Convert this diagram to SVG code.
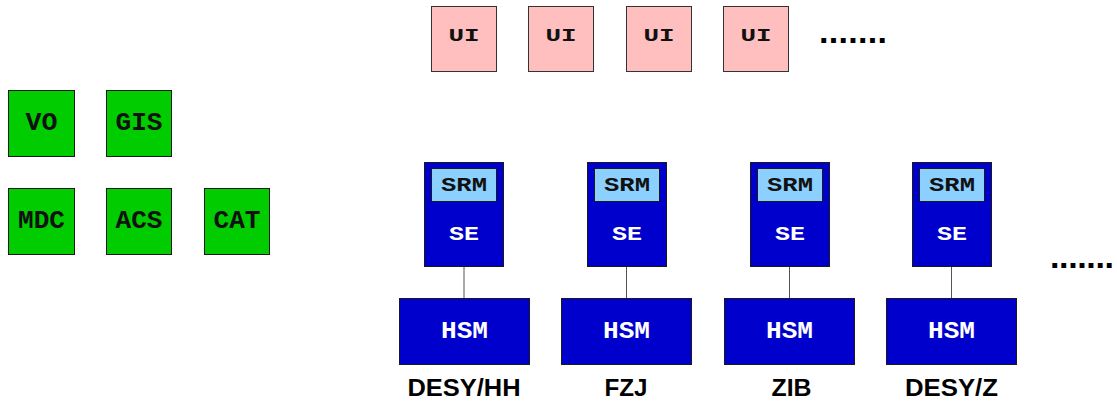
<svg xmlns="http://www.w3.org/2000/svg" width="1117" height="401" viewBox="0 0 1117 401">
<style>
.g{fill:#00cc00;stroke:#1a1a1a;stroke-width:1}
.u{fill:#ffbfbf;stroke:#333;stroke-width:1}
.b{fill:#0000cc;stroke:#1a1a1a;stroke-width:1}
.s{fill:#8cd0ff;stroke:#1a1a1a;stroke-width:1}
.m{font-family:"Liberation Mono","Courier New",monospace;font-weight:bold;text-anchor:middle}
.gt{font-size:25px;fill:#111}
.ut{font-size:18px;fill:#111}
.st{font-size:20px;fill:#111}
.se{font-size:21px;fill:#fff}
.ht{font-size:23px;fill:#fff}
.lab{font-family:"Liberation Sans",Arial,sans-serif;font-weight:bold;font-size:24px;fill:#000;text-anchor:middle}
.dots{font-family:"Liberation Sans",Arial,sans-serif;font-weight:bold;font-size:34px;fill:#000}
.c{stroke:#555;stroke-width:1}
</style>
<g id="vo"><rect class="g" x="8.5" y="90.5" width="66" height="66"/><text class="m gt" x="41.5" y="130" textLength="32" lengthAdjust="spacingAndGlyphs">VO</text></g>
<g id="gis"><rect class="g" x="106.5" y="90.5" width="65" height="66"/><text class="m gt" x="139" y="130" textLength="47" lengthAdjust="spacingAndGlyphs">GIS</text></g>
<g id="mdc"><rect class="g" x="8.5" y="188.5" width="66" height="66"/><text class="m gt" x="41.5" y="228" textLength="47" lengthAdjust="spacingAndGlyphs">MDC</text></g>
<g id="acs"><rect class="g" x="106.5" y="188.5" width="65" height="66"/><text class="m gt" x="139" y="228" textLength="47" lengthAdjust="spacingAndGlyphs">ACS</text></g>
<g id="cat"><rect class="g" x="204.5" y="188.5" width="65" height="66"/><text class="m gt" x="237" y="228" textLength="47" lengthAdjust="spacingAndGlyphs">CAT</text></g>

<g id="ui1"><rect class="u" x="431.5" y="6.5" width="65" height="65"/><text class="m ut" x="464" y="41" textLength="31" lengthAdjust="spacingAndGlyphs">UI</text></g>
<g id="ui2"><rect class="u" x="528.5" y="6.5" width="65" height="65"/><text class="m ut" x="561" y="41" textLength="31" lengthAdjust="spacingAndGlyphs">UI</text></g>
<g id="ui3"><rect class="u" x="626.5" y="6.5" width="65" height="65"/><text class="m ut" x="659" y="41" textLength="31" lengthAdjust="spacingAndGlyphs">UI</text></g>
<g id="ui4"><rect class="u" x="723.5" y="6.5" width="65" height="65"/><text class="m ut" x="756" y="41" textLength="31" lengthAdjust="spacingAndGlyphs">UI</text></g>
<text id="ui-more" class="dots" x="819" y="43" textLength="68" lengthAdjust="spacing">.......</text>

<g id="connectors">
<line class="c" x1="464" y1="266" x2="464" y2="298"/>
<line class="c" x1="626.5" y1="266" x2="626.5" y2="298"/>
<line class="c" x1="789.5" y1="266" x2="789.5" y2="298"/>
<line class="c" x1="951.5" y1="266" x2="951.5" y2="298"/>
</g>

<g id="se1"><rect class="b" x="424.5" y="162.5" width="79" height="104"/><rect class="s" x="431.5" y="168.5" width="65" height="33"/><text class="m st" x="464" y="191" textLength="46" lengthAdjust="spacingAndGlyphs">SRM</text><text class="m se" x="464" y="240" textLength="30" lengthAdjust="spacingAndGlyphs">SE</text></g>
<g id="hsm1"><rect class="b" x="399.5" y="298.5" width="130" height="66"/><text class="m ht" x="464.5" y="338" textLength="47" lengthAdjust="spacingAndGlyphs">HSM</text></g>
<text id="site1" class="lab" x="464" y="396" textLength="113" lengthAdjust="spacingAndGlyphs">DESY/HH</text>

<g id="se2"><rect class="b" x="587.5" y="162.5" width="79" height="104"/><rect class="s" x="594.5" y="168.5" width="65" height="33"/><text class="m st" x="627" y="191" textLength="46" lengthAdjust="spacingAndGlyphs">SRM</text><text class="m se" x="627" y="240" textLength="30" lengthAdjust="spacingAndGlyphs">SE</text></g>
<g id="hsm2"><rect class="b" x="561.5" y="298.5" width="130" height="66"/><text class="m ht" x="626.5" y="338" textLength="47" lengthAdjust="spacingAndGlyphs">HSM</text></g>
<text id="site2" class="lab" x="626" y="396" textLength="43" lengthAdjust="spacingAndGlyphs">FZJ</text>

<g id="se3"><rect class="b" x="750.5" y="162.5" width="79" height="104"/><rect class="s" x="757.5" y="168.5" width="65" height="33"/><text class="m st" x="790" y="191" textLength="46" lengthAdjust="spacingAndGlyphs">SRM</text><text class="m se" x="790" y="240" textLength="30" lengthAdjust="spacingAndGlyphs">SE</text></g>
<g id="hsm3"><rect class="b" x="724.5" y="298.5" width="130" height="66"/><text class="m ht" x="789.5" y="338" textLength="47" lengthAdjust="spacingAndGlyphs">HSM</text></g>
<text id="site3" class="lab" x="791.5" y="396" textLength="40" lengthAdjust="spacingAndGlyphs">ZIB</text>

<g id="se4"><rect class="b" x="912.5" y="162.5" width="79" height="104"/><rect class="s" x="919.5" y="168.5" width="65" height="33"/><text class="m st" x="952" y="191" textLength="46" lengthAdjust="spacingAndGlyphs">SRM</text><text class="m se" x="952" y="240" textLength="30" lengthAdjust="spacingAndGlyphs">SE</text></g>
<g id="hsm4"><rect class="b" x="886.5" y="298.5" width="130" height="66"/><text class="m ht" x="951.5" y="338" textLength="47" lengthAdjust="spacingAndGlyphs">HSM</text></g>
<text id="site4" class="lab" x="951.5" y="396" textLength="93" lengthAdjust="spacingAndGlyphs">DESY/Z</text>

<text id="se-more" class="dots" x="1050" y="268" textLength="64" lengthAdjust="spacing">.......</text>
</svg>
